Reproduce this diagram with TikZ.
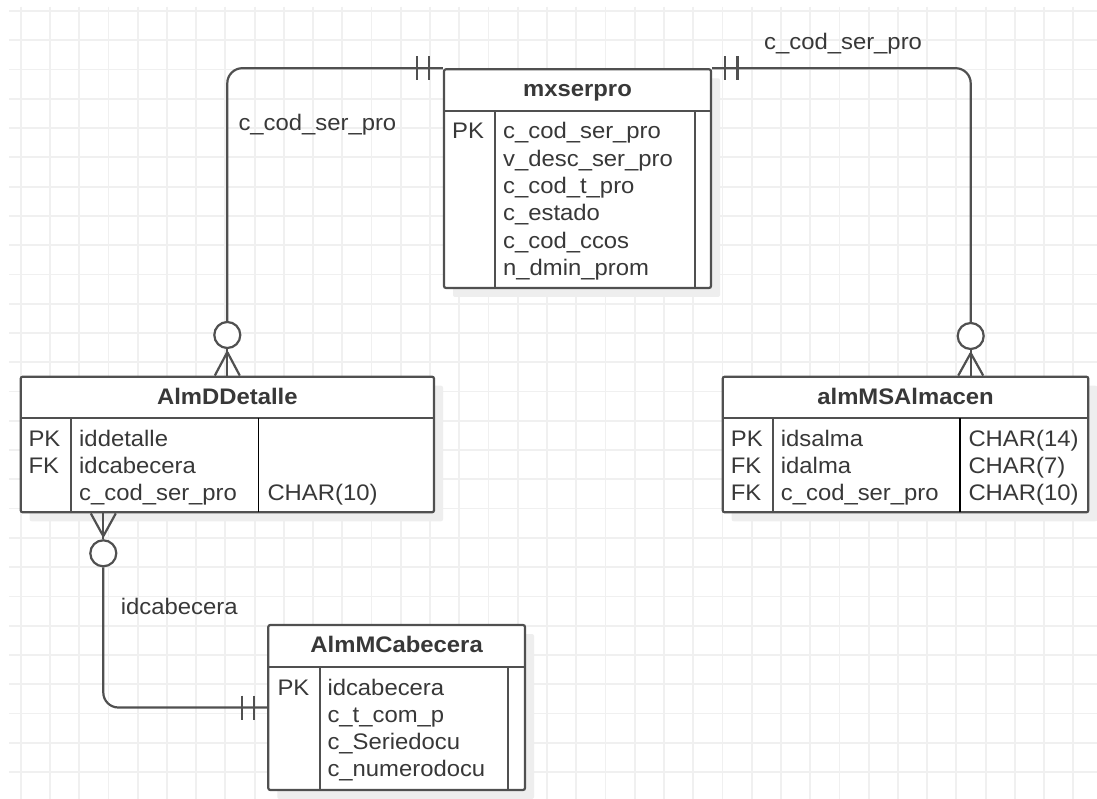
\documentclass[tikz,border=0pt]{standalone}
\usepackage{fontspec}
\setmainfont{Liberation Sans}[FakeStretch=1.06]
\usetikzlibrary{calc,shadows}
\definecolor{lc}{HTML}{505050}
\definecolor{tc}{HTML}{383838}
\definecolor{gc}{HTML}{F0F0F0}
\definecolor{sc}{HTML}{EEEEEE}
\newcommand\erfont{\fontsize{22.5}{27}\selectfont}
\tikzset{
  gridline/.style={draw=gc, line width=1.8},
  tbl/.style={draw=lc, line width=2.2, rounded corners=2, fill=white, inner sep=0,
    drop shadow={shadow xshift=9pt, shadow yshift=-9pt, fill=sc, opacity=1}},
  sep/.style={draw=lc, line width=2.2},
  typesep/.style={draw=black, line width=1.5},
  conn/.style={draw=lc, line width=2.2},
  txt/.style={text=tc, inner sep=0, anchor=base west, font=\erfont},
  ttl/.style={text=tc, inner sep=0, anchor=base, font=\erfont\bfseries},
  dot/.style={circle, draw=lc, line width=2.2, fill=white, minimum size=26, inner sep=0},
}
\begin{document}
\begin{tikzpicture}[x=1pt,y=-1pt]
\useasboundingbox[fill=white] (0,0) rectangle (1097,799);

% background grid
\foreach \k in {0,...,36} \draw[gridline] ({20.7+29.24*\k},7) -- ++(0,792);
\foreach \k in {0,...,26} \draw[gridline] (9,{11+29.27*\k}) -- (1097,{11+29.27*\k});

% ---------- table mxserpro ----------
\node[tbl, minimum width=267, minimum height=218.7] (mx) at (577.5,178.65) {};
\draw[sep] (444,111) -- (711,111);
\draw[sep] (495.3,111) -- (495.3,288);
\draw[sep] (695,111) -- (695,288);
\node[ttl] (mxt) at (577.5,96.5) {mxserpro};
\node[txt] (mxk1) at (452,139) {PK};
\node[txt] (mxf1) at (503,139) {c\_cod\_ser\_pro};
\node[txt] (mxf2) at (503,166.3) {v\_desc\_ser\_pro};
\node[txt] (mxf3) at (503,193.6) {c\_cod\_t\_pro};
\node[txt] (mxf4) at (503,220.9) {c\_estado};
\node[txt] (mxf5) at (503,248.2) {c\_cod\_ccos};
\node[txt] (mxf6) at (503,275.5) {n\_dmin\_prom};

% ---------- table AlmDDetalle ----------
\node[tbl, minimum width=413.3, minimum height=135.6] (det) at (227.35,444.5) {};
\draw[sep] (20.7,418.3) -- (434,418.3);
\draw[sep] (71,418.3) -- (71,512.3);
\draw[typesep] (258.3,418.3) -- (258.3,512.3);
\node[ttl] (dett) at (227.35,404) {AlmDDetalle};
\node[txt] (detk1) at (28.3,446.3) {PK};
\node[txt] (detk2) at (28.3,473.5) {FK};
\node[txt] (detf1) at (79,446.3) {iddetalle};
\node[txt] (detf2) at (79,473.5) {idcabecera};
\node[txt] (detf3) at (79,500.7) {c\_cod\_ser\_pro};
\node[txt] (dety3) at (267.3,500.7) {CHAR(10)};

% ---------- table almMSAlmacen ----------
\node[tbl, minimum width=365.6, minimum height=135.6] (alm) at (905.5,444.5) {};
\draw[sep] (722.7,418.3) -- (1088.3,418.3);
\draw[sep] (773.3,418.3) -- (773.3,512.3);
\draw[typesep] (960,418.3) -- (960,512.3);
\node[ttl] (almt) at (905.5,404) {almMSAlmacen};
\node[txt] (almk1) at (730.7,446.3) {PK};
\node[txt] (almk2) at (730.7,473.5) {FK};
\node[txt] (almk3) at (730.7,500.7) {FK};
\node[txt] (almf1) at (780.7,446.3) {idsalma};
\node[txt] (almf2) at (780.7,473.5) {idalma};
\node[txt] (almf3) at (780.7,500.7) {c\_cod\_ser\_pro};
\node[txt] (almy1) at (968.3,446.3) {CHAR(14)};
\node[txt] (almy2) at (968.3,473.5) {CHAR(7)};
\node[txt] (almy3) at (968.3,500.7) {CHAR(10)};

% ---------- table AlmMCabecera ----------
\node[tbl, minimum width=256.7, minimum height=165] (cab) at (396.65,707.5) {};
\draw[sep] (268.3,666.7) -- (525,666.7);
\draw[sep] (320,666.7) -- (320,790);
\draw[sep] (508.3,666.7) -- (508.3,790);
\node[ttl] (cabt) at (396.65,652.5) {AlmMCabecera};
\node[txt] (cabk1) at (277.3,695) {PK};
\node[txt] (cabf1) at (327.3,695) {idcabecera};
\node[txt] (cabf2) at (327.3,722.3) {c\_t\_com\_p};
\node[txt] (cabf3) at (327.3,749.6) {c\_Seriedocu};
\node[txt] (cabf4) at (327.3,776.9) {c\_numerodocu};

% ---------- mxserpro -> AlmDDetalle (one to zero-or-many) ----------
\node[dot] (d1) at (227.3,335) {};
\draw[conn, rounded corners=15] (mx.north west) -| (d1.north);
\draw[conn] ($(mx.north west)+(-14,-12)$) -- ++(0,24);
\draw[conn] ($(mx.north west)+(-25.7,-12)$) -- ++(0,24);
\draw[conn] (d1.south) -- (d1.south |- det.north);
\draw[conn] ($(d1.south)+(0,3)$) -- ($(d1.south |- det.north)+(-12.5,0)$);
\draw[conn] ($(d1.south)+(0,3)$) -- ($(d1.south |- det.north)+(12.5,0)$);
\node[txt] (l1) at (238.3,130.7) {c\_cod\_ser\_pro};

% ---------- mxserpro -> almMSAlmacen (one to zero-or-many) ----------
\node[dot] (d2) at (970.7,336) {};
\draw[conn, rounded corners=15] (mx.north east) -| (d2.north);
\draw[conn] ($(mx.north east)+(12.6,-12)$) -- ++(0,24);
\draw[conn] ($(mx.north east)+(25.3,-12)$) -- ++(0,24);
\draw[conn] (d2.south) -- (d2.south |- alm.north);
\draw[conn] ($(d2.south)+(0,3)$) -- ($(d2.south |- alm.north)+(-12.5,0)$);
\draw[conn] ($(d2.south)+(0,3)$) -- ($(d2.south |- alm.north)+(12.5,0)$);
\node[txt] (l2) at (764,49.3) {c\_cod\_ser\_pro};

% ---------- AlmMCabecera -> AlmDDetalle (one to zero-or-many) ----------
\node[dot] (d3) at (103.3,553.3) {};
\draw[conn, rounded corners=15] (d3.south) |- (cab.west);
\draw[conn] ($(cab.west)+(-13.3,-12)$) -- ++(0,24);
\draw[conn] ($(cab.west)+(-25.6,-12)$) -- ++(0,24);
\draw[conn] (d3.north) -- (d3.north |- det.south);
\draw[conn] ($(d3.north)+(0,-3)$) -- ($(d3.north |- det.south)+(-12.5,0)$);
\draw[conn] ($(d3.north)+(0,-3)$) -- ($(d3.north |- det.south)+(12.5,0)$);
\node[txt] (l3) at (120.7,614) {idcabecera};
\end{tikzpicture}
\end{document}
